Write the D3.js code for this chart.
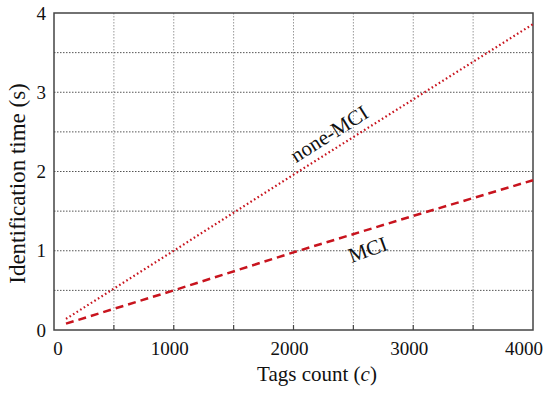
<!DOCTYPE html>
<html>
<head>
<meta charset="utf-8">
<script src="https://cdn.jsdelivr.net/npm/d3@7"></script>
<style>
  body { margin: 0; background: #fff; }
  svg text { font-family: "Liberation Serif", "DejaVu Serif", serif; fill: #111; }
</style>
</head>
<body>
<svg id="chart" width="550" height="393"></svg>
<script>
// Values
const tagCounts = [100, 1000, 2000, 3000, 4000];
const noneMciTimes = [0.14, 1.0, 1.96, 2.91, 3.86];
const mciTimes = [0.08, 0.5, 0.98, 1.44, 1.89];
const xTicks = [0, 1000, 2000, 3000, 4000];
const yTicks = [0, 1, 2, 3, 4];

const margin = { top: 13, right: 17, bottom: 63, left: 54 };
const width = 550 - margin.left - margin.right;
const height = 393 - margin.top - margin.bottom;

const svg = d3.select('#chart');
const g = svg.append('g')
  .attr('transform', `translate(${margin.left}, ${margin.top})`);

const x = d3.scaleLinear().domain([0, 4000]).range([0, width]);
const y = d3.scaleLinear().domain([0, 4]).range([height, 0]);

// Dotted grid every 500 / 0.5
const gridX = d3.range(500, 4000, 500);
const gridY = d3.range(0.5, 4, 0.5);

g.append('g').selectAll('line')
  .data(gridX)
  .join('line')
  .attr('x1', d => x(d)).attr('x2', d => x(d))
  .attr('y1', 0).attr('y2', height)
  .attr('stroke', '#999').attr('stroke-width', 1)
  .attr('stroke-dasharray', '1.5,1.5');

g.append('g').selectAll('line')
  .data(gridY)
  .join('line')
  .attr('y1', d => y(d)).attr('y2', d => y(d))
  .attr('x1', 0).attr('x2', width)
  .attr('stroke', '#555').attr('stroke-width', 1)
  .attr('stroke-dasharray', '1.5,1.5');

// Inward tick marks
g.append('g').selectAll('line')
  .data(gridX)
  .join('line')
  .attr('x1', d => x(d)).attr('x2', d => x(d))
  .attr('y1', height).attr('y2', height - 5)
  .attr('stroke', '#444').attr('stroke-width', 1.2);

// Frame
g.append('rect')
  .attr('width', width).attr('height', height)
  .attr('fill', 'none').attr('stroke', '#444').attr('stroke-width', 1.5);

// Axis labels (end labels are pulled inside like the reference)
const xLabelShift = d => (d === 0 ? 4 : d === 4000 ? -9 : -4);

g.append('g').selectAll('text')
  .data(xTicks)
  .join('text')
  .attr('x', d => x(d) + xLabelShift(d))
  .attr('y', height + 25)
  .attr('text-anchor', 'middle')
  .attr('font-size', 19)
  .text(d => d);

g.append('g').selectAll('text')
  .data(yTicks)
  .join('text')
  .attr('x', -8)
  .attr('y', d => y(d))
  .attr('dy', '0.35em')
  .attr('text-anchor', 'end')
  .attr('font-size', 19)
  .text(d => d);

svg.append('text')
  .attr('x', 317)
  .attr('y', 381)
  .attr('text-anchor', 'middle')
  .attr('font-size', 21)
  .html('Tags count (<tspan font-style="italic">c</tspan>)');

svg.append('text')
  .attr('transform', `translate(25, ${margin.top + height / 2 + 12}) rotate(-90)`)
  .attr('text-anchor', 'middle')
  .attr('font-size', 23)
  .text('Identification time (s)');

// Series
const line = d3.line()
  .x((d, i) => x(tagCounts[i]))
  .y(d => y(d));

g.append('path')
  .datum(noneMciTimes)
  .attr('d', line)
  .attr('fill', 'none')
  .attr('stroke', '#c8141e')
  .attr('stroke-width', 2.2)
  .attr('stroke-dasharray', '1.6,2.6');

g.append('path')
  .datum(mciTimes)
  .attr('d', line)
  .attr('fill', 'none')
  .attr('stroke', '#c8141e')
  .attr('stroke-width', 2.5)
  .attr('stroke-dasharray', '8,5');

// Curve labels
const angleOf = (vals, i0, i1) => {
  const dx = x(tagCounts[i1]) - x(tagCounts[i0]);
  const dy = y(vals[i1]) - y(vals[i0]);
  return Math.atan2(dy, dx) * 180 / Math.PI;
};

g.append('text')
  .attr('transform', `translate(${x(2330)}, ${y(2.4)}) rotate(${angleOf(noneMciTimes, 1, 4)})`)
  .attr('text-anchor', 'middle')
  .attr('font-size', 21)
  .text('none-MCI');

g.append('text')
  .attr('transform', `translate(${x(2640)}, ${y(0.93)}) rotate(${angleOf(mciTimes, 1, 4) - 3})`)
  .attr('text-anchor', 'middle')
  .attr('font-size', 21)
  .text('MCI');
</script>
</body>
</html>
